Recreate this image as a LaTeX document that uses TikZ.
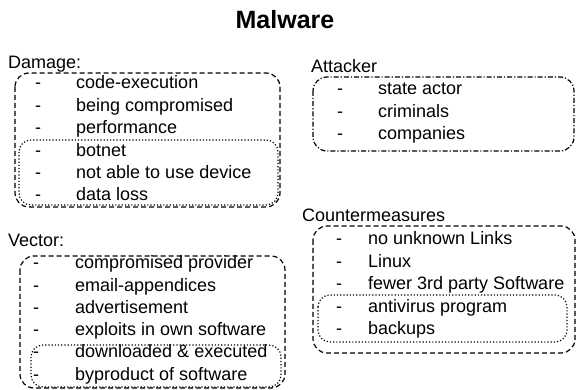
\documentclass[tikz,border=0pt]{standalone}
\usepackage{fontspec}
\setmainfont{Liberation Sans}
\begin{document}
\begin{tikzpicture}[x=1pt,y=-1pt,
    item/.style={anchor=base west,inner sep=0pt,font=\fontsize{18}{18}\selectfont},
    dashbox/.style={line width=1.2pt,rounded corners=14pt,dash pattern=on 5pt off 3pt},
    dashdotbox/.style={line width=1.2pt,rounded corners=14pt,dash pattern=on 5pt off 2pt on 1.2pt off 2pt},
    dotbox/.style={line width=1.2pt,rounded corners=12pt,dash pattern=on 1.2pt off 2pt}]
    \useasboundingbox (0,0) rectangle (576,390);

    % Title
    \node[font=\bfseries\fontsize{25}{25}\selectfont] (title) at (285,20) {Malware};

    % Damage
    \node[item] (damage) at (8,69) {Damage:};
    \foreach \t [count=\i] in {code-execution, being compromised, performance,
        botnet, not able to use device, data loss} {
        \node[item] (dmgdash\i) at (35,{89+22.4*(\i-1)}) {-};
        \node[item] (dmg\i) at (76,{89+22.4*(\i-1)}) {\t};
    }
    \draw[dashbox] (15,73) rectangle (280,207);
    \draw[dotbox] (19,140) rectangle (278,205);

    % Attacker
    \node[item] (attacker) at (311,73) {Attacker};
    \foreach \t [count=\i] in {state actor, criminals, companies} {
        \node[item] (attdash\i) at (337,{95+22.4*(\i-1)}) {-};
        \node[item] (att\i) at (378,{95+22.4*(\i-1)}) {\t};
    }
    \draw[dashdotbox] (313,77) rectangle (574,151);

    % Vector
    \node[item] (vector) at (8,247) {Vector:};
    \foreach \t [count=\i] in {compromised provider, email-appendices, advertisement,
        exploits in own software, downloaded \& executed, byproduct of software} {
        \node[item] (vecdash\i) at (33,{269+22.2*(\i-1)}) {-};
        \node[item] (vec\i) at (75,{269+22.2*(\i-1)}) {\t};
    }
    \draw[dashbox] (20,256) rectangle (285,388);
    \draw[dotbox] (31,345) rectangle (281,387);

    % Countermeasures
    \node[item] (counter) at (302,222) {Countermeasures};
    \foreach \t [count=\i] in {no unknown Links, Linux, fewer 3rd party Software,
        antivirus program, backups} {
        \node[item] (cmdash\i) at (336,{245+22.4*(\i-1)}) {-};
        \node[item] (cm\i) at (368,{245+22.4*(\i-1)}) {\t};
    }
    \draw[dashbox] (313,226) rectangle (575,353);
    \draw[dotbox] (318,295) rectangle (567,342);
\end{tikzpicture}
\end{document}
